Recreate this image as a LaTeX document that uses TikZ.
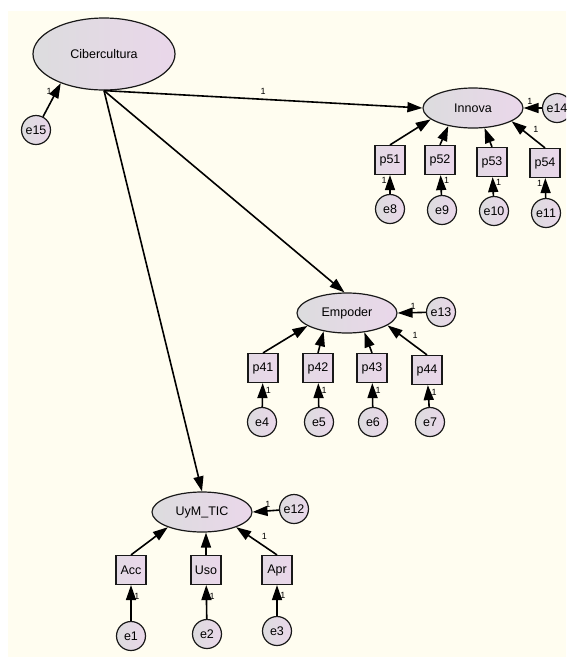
\documentclass[tikz,border=0pt]{standalone}
\usepackage{fontspec}
\setmainfont{Liberation Sans}
\usetikzlibrary{shapes.geometric}
\usetikzlibrary{arrows.meta}

\definecolor{paper}{HTML}{FFFDF0}
\definecolor{shadeL}{HTML}{DCDCDE}
\definecolor{shadeR}{HTML}{EAD7EA}

\begin{document}
\begin{tikzpicture}
		[x=1pt, y=-1pt, line width=1.2pt, font=\fontsize{12.5}{14}\selectfont,
		latent/.style = {draw=black!90, ellipse, minimum width=100pt, minimum height=40pt, inner sep=0pt, left color=shadeL, right color=shadeR},
		obs/.style = {draw=black!90, rectangle, minimum width=30pt, minimum height=29pt, inner sep=0pt, left color=shadeL!50!shadeR, right color=shadeR},
		err/.style = {draw=black!90, circle, minimum size=29pt, inner sep=0pt, left color=shadeL, right color=shadeR},
		pathway/.style = {draw=black, line width=1.6pt, -{Triangle[length=15pt, width=10pt]}},
		one/.style = {font=\fontsize{9}{10}\selectfont, inner sep=2.5pt}]
	\useasboundingbox (0,0) rectangle (566,657);
	\clip (0,0) rectangle (566,657);
	\fill[paper] (8,11) rectangle (566,657);
	% latent variables
	\node[latent, minimum width=142pt, minimum height=72pt] (Cib) at (104,54) {Cibercultura};
	\node[latent] (Innova) at (473,108) {Innova};
	\node[latent] (Empoder) at (347,313) {Empoder};
	\node[latent] (UyM) at (202,512) {UyM\_TIC};
	% indicators
	\node[obs] (p51) at (390,160) {p51};
	\node[obs] (p52) at (440,160) {p52};
	\node[obs] (p53) at (492,162) {p53};
	\node[obs] (p54) at (545,163) {p54};
	\node[obs] (p41) at (263,368) {p41};
	\node[obs] (p42) at (318,368) {p42};
	\node[obs] (p43) at (372,368) {p43};
	\node[obs] (p44) at (427,370) {p44};
	\node[obs] (Acc) at (131,570) {Acc};
	\node[obs] (Uso) at (206,570) {Uso};
	\node[obs] (Apr) at (277,570) {Apr};
	% errors
	\node[err] (e15) at (36,130) {e15};
	\node[err] (e14) at (557,108) {e14};
	\node[err] (e13) at (441,312) {e13};
	\node[err] (e12) at (294,509) {e12};
	\node[err] (e8) at (390,209) {e8};
	\node[err] (e9) at (442,210) {e9};
	\node[err] (e10) at (494,211) {e10};
	\node[err] (e11) at (546,213) {e11};
	\node[err] (e4) at (262,422) {e4};
	\node[err] (e5) at (319,422) {e5};
	\node[err] (e6) at (373,422) {e6};
	\node[err] (e7) at (430,422) {e7};
	\node[err] (e1) at (131,636) {e1};
	\node[err] (e2) at (207,634) {e2};
	\node[err] (e3) at (277,631) {e3};
	% structural paths
	\draw[pathway] (e15) -- node[one, left, pos=0.75, inner sep=4pt] {1} (Cib.214);
	\draw[pathway] (Cib.south) -- node[one, above, pos=0.5, inner sep=4pt] {1} (Innova.west);
	\draw[pathway] (Cib.south) -- (Empoder.97);
	\draw[pathway] (Cib.south) -- (UyM.north);
	% Innova
	\draw[pathway] (e14) -- node[one, above, pos=0.66] {1} (Innova.east);
	\draw[pathway] (p51.north) -- (Innova.195);
	\draw[pathway] (p52.north) -- (Innova.216);
	\draw[pathway] (p53.north) -- (Innova.300);
	\draw[pathway] (p54.north) -- node[one, above right, pos=0.45] {1} (Innova.341);
	\draw[pathway] (e8) -- node[one, left, pos=0.72] {1} (p51);
	\draw[pathway] (e9) -- node[one, right, pos=0.72] {1} (p52);
	\draw[pathway] (e10) -- node[one, right, pos=0.72] {1} (p53);
	\draw[pathway] (e11) -- node[one, left, pos=0.72] {1} (p54);
	% Empoder
	\draw[pathway] (e13) -- node[one, above, pos=0.45] {1} (Empoder.east);
	\draw[pathway] (p41.north) -- (Empoder.198);
	\draw[pathway] (p42.north) -- (Empoder.218);
	\draw[pathway] (p43.north) -- (Empoder.312);
	\draw[pathway] (p44.north) -- node[one, above right, pos=0.45] {1} (Empoder.343);
	\draw[pathway] (e4) -- node[one, right, pos=0.68] {1} (p41);
	\draw[pathway] (e5) -- node[one, right, pos=0.68] {1} (p42);
	\draw[pathway] (e6) -- node[one, right, pos=0.68] {1} (p43);
	\draw[pathway] (e7) -- node[one, right, pos=0.68] {1} (p44);
	% UyM_TIC
	\draw[pathway] (e12) -- node[one, above, pos=0.42] {1} (UyM.east);
	\draw[pathway] (Acc.north) -- (UyM.204);
	\draw[pathway] (Uso.north) -- (Uso.north |- UyM.south);
	\draw[pathway] (Apr.north) -- node[one, above right, pos=0.45] {1} (UyM.336);
	\draw[pathway] (e1) -- node[one, right, pos=0.68] {1} (Acc);
	\draw[pathway] (e2) -- node[one, right, pos=0.68] {1} (Uso);
	\draw[pathway] (e3) -- node[one, right, pos=0.68] {1} (Apr);
\end{tikzpicture}
\end{document}
